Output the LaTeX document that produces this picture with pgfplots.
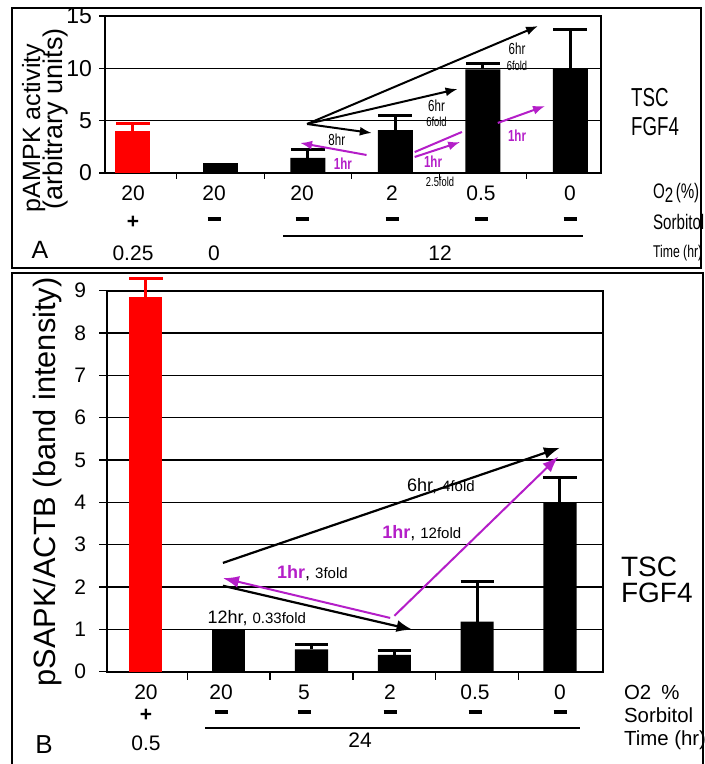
\documentclass[border=0pt]{standalone}
\usepackage{pgfplots}
\pgfplotsset{compat=1.18}
\usepackage{fontspec}
\setmainfont{Liberation Sans}
\usepackage{graphicx}
\usetikzlibrary{arrows.meta}
\definecolor{myred}{RGB}{255,0,0}
\definecolor{mypurple}{RGB}{180,30,200}
\newcommand\fs[1]{\fontsize{#1}{#1}\selectfont}
\newcommand\nr[1]{\scalebox{0.72}[1]{#1}}
\newcommand\mn{\rule[2.6pt]{6.5pt}{1.9pt}}
\begin{document}
\begin{tikzpicture}
\path[use as bounding box] (0pt,0pt) rectangle (352.5pt,382pt);
% ---------------- Panel A
\begin{axis}[at={(52.5pt,295.5pt)}, anchor=south west, scale only axis,
  width=248pt, height=78.5pt,
  xmin=-0.32, xmax=5.35, ymin=0, ymax=15,
  ytick={0,5,10,15}, xtick={0.5,1.5,2.5,3.5,4.5}, xticklabels={},
  tick pos=left, tick align=outside, major tick length=3pt,
  ymajorgrids, grid style={black, line width=0.6pt},
  axis line style={black, line width=0.8pt},
  tick style={black, line width=0.6pt},
  yticklabel style={font=\fs{11.5}},
  /pgf/number format/assume math mode=true,
  clip=false]
\addplot[ybar, bar width=0.4, bar shift=0pt, fill=myred, draw=none,
  error bars/.cd, y dir=plus, y explicit,
  error bar style={myred, line width=1.5pt},
  error mark options={myred, rotate=90, mark size=8.5pt, line width=1.5pt}]
  coordinates {(0,4.0) +- (0,0.7)};
\addplot[ybar, bar width=0.4, bar shift=0pt, fill=black, draw=none]
  coordinates {(1,1.0)};
\addplot[ybar, bar width=0.4, bar shift=0pt, fill=black, draw=none,
  error bars/.cd, y dir=plus, y explicit,
  error bar style={black, line width=1.5pt},
  error mark options={black, rotate=90, mark size=8.5pt, line width=1.5pt}]
  coordinates {(2,1.45) +- (0,0.75) (3,4.1) +- (0,1.4) (4,9.9) +- (0,0.6) (5,10.0) +- (0,3.7)};
\draw[black, line width=1pt, -{Latex[length=6pt,width=4.5pt]}] (axis cs:1.99,4.68) -- (axis cs:4.63,14.04);
\draw[black, line width=1pt, -{Latex[length=6pt,width=4.5pt]}] (axis cs:1.99,4.68) -- (axis cs:3.71,8.02);
\draw[black, line width=1pt, -{Latex[length=6pt,width=4.5pt]}] (axis cs:1.99,4.68) -- (axis cs:2.73,3.82);
\node[font=\fs{8}] at (axis cs:4.39,11.9) {\nr{6hr}};
\node[font=\fs{6.5}] at (axis cs:4.39,10.2) {\nr{6fold}};
\node[font=\fs{8}] at (axis cs:3.47,6.4) {\nr{6hr}};
\node[font=\fs{6.5}] at (axis cs:3.47,4.9) {\nr{6fold}};
\node[font=\fs{8}] at (axis cs:2.33,3.2) {\nr{8hr}};
\draw[mypurple, line width=1pt, -{Latex[length=6pt,width=4.5pt]}] (axis cs:2.67,1.72) -- (axis cs:1.91,2.87);
\node[font=\bfseries\fs{8}, text=mypurple] at (axis cs:2.4,0.86) {\nr{1hr}};
\draw[mypurple, line width=1pt] (axis cs:3.22,2.0) -- (axis cs:3.76,3.92);
\draw[mypurple, line width=1pt, -{Latex[length=6pt,width=4.5pt]}] (axis cs:3.22,1.53) -- (axis cs:3.74,2.96);
\node[font=\bfseries\fs{8}, text=mypurple] at (axis cs:3.43,1.05) {\nr{1hr}};
\draw[mypurple, line width=1pt, -{Latex[length=6pt,width=4.5pt]}] (axis cs:4.17,4.78) -- (axis cs:4.71,6.4);
\node[font=\bfseries\fs{8}, text=mypurple] at (axis cs:4.39,3.55) {\nr{1hr}};
\end{axis}
% ---------------- Panel B
\begin{axis}[at={(53.5pt,46.15pt)}, anchor=south west, scale only axis,
  width=248pt, height=190.5pt,
  xmin=-0.47, xmax=5.52, ymin=0, ymax=9,
  ytick={0,1,...,9}, xtick={0.5,1.5,2.5,3.5,4.5}, xticklabels={},
  tick pos=left, tick align=outside, major tick length=4pt,
  ymajorgrids, grid style={black, line width=0.7pt},
  axis line style={black, line width=0.9pt},
  tick style={black, line width=0.7pt},
  yticklabel style={font=\fs{10.5}, xshift=-3pt},
  /pgf/number format/assume math mode=true,
  clip=false]
\addplot[ybar, bar width=0.4, bar shift=0pt, fill=myred, draw=none,
  error bars/.cd, y dir=plus, y explicit,
  error bar style={myred, line width=1.5pt},
  error mark options={myred, rotate=90, mark size=8.3pt, line width=1.5pt}]
  coordinates {(0,8.85) +- (0,0.45)};
\addplot[ybar, bar width=0.4, bar shift=0pt, fill=black, draw=none]
  coordinates {(1,1.02)};
\addplot[ybar, bar width=0.4, bar shift=0pt, fill=black, draw=none,
  error bars/.cd, y dir=plus, y explicit,
  error bar style={black, line width=1.5pt},
  error mark options={black, rotate=90, mark size=8.3pt, line width=1.5pt}]
  coordinates {(2,0.53) +- (0,0.12) (3,0.4) +- (0,0.11) (4,1.18) +- (0,0.95) (5,3.98) +- (0,0.6)};
\draw[black, line width=1.1pt, -{Latex[length=8pt,width=6pt]}] (axis cs:0.93,2.57) -- (axis cs:5.0,5.29);
\draw[black, line width=1.1pt, -{Latex[length=8pt,width=6pt]}] (axis cs:0.93,2.03) -- (axis cs:3.22,0.99);
\draw[mypurple, line width=1pt, -{Latex[length=8pt,width=6pt]}] (axis cs:2.95,1.27) -- (axis cs:0.93,2.21);
\draw[mypurple, line width=1pt, -{Latex[length=8pt,width=6pt]}] (axis cs:3.0,1.32) -- (axis cs:4.98,5.08);
\node[anchor=west, font=\fs{9}, inner sep=0pt] at (axis cs:3.15,4.39) {6hr, {\fs{7.5}4fold}};
\node[anchor=west, font=\fs{9}, inner sep=0pt] at (axis cs:0.74,1.27) {12hr, {\fs{7.5}0.33fold}};
\node[anchor=west, font=\fs{9}, inner sep=0pt] at (axis cs:1.58,2.33) {\textcolor{mypurple}{\bfseries 1hr}, {\fs{7.5}3fold}};
\node[anchor=west, font=\fs{9}, inner sep=0pt] at (axis cs:2.85,3.28) {\textcolor{mypurple}{\bfseries 1hr}, {\fs{7.5}12fold}};
\end{axis}
\begin{scope}[x=0.5pt,y=0.5pt]
\draw[line width=1pt] (12,756) rectangle (701,496);
\draw[line width=1pt] (12,0) -- (12,491) -- (703,491) -- (703,0);
% Panel A labels
\node[rotate=90, anchor=base, font=\fs{12.5}] at (40,636) {pAMPK activity};
\node[rotate=90, anchor=base, font=\fs{13.5}] at (62,645) {(arbitrary units)};
\foreach \x/\t in {133/20,214/20,302/20,392/2,481/0.5,570/0}
  \node[font=\fs{10.5}] at (\x,571) {\t};
\node[font=\bfseries\fs{10.5}] at (133,542) {+};
\foreach \x in {214,302,392,481,570}
  \node[font=\fs{10.5}] at (\x,542) {\mn};
\node[font=\fs{10.5}] at (133,511) {0.25};
\node[font=\fs{10.5}] at (214,511) {0};
\node[font=\fs{10.5}] at (440,511) {12};
\draw[line width=0.6pt] (283,528) -- (583,528);
\node[font=\fs{6.5}] at (440,582) {\nr{2.5fold}};
\node[anchor=west, font=\fs{10.5}] at (646,571) {\nr{O\raisebox{-2pt}{2}\,(\%)}};
\node[anchor=west, font=\fs{10.5}] at (646,542) {\nr{Sorbitol}};
\node[anchor=west, font=\fs{8.5}] at (646,511) {\nr{Time (hr)}};
\node[anchor=west, font=\fs{13}] at (624,666) {\nr{TSC}};
\node[anchor=west, font=\fs{13}] at (624,637) {\nr{FGF4}};
\node[font=\fs{12.5}] at (40,514) {A};
% Panel B labels
\node[rotate=90, anchor=base, font=\fs{15.4}] at (55,282) {pSAPK/ACTB (band intensity)};
\foreach \x/\t in {146/20,221/20,304/5,390/2,475/0.5,560/0}
  \node[font=\fs{10.5}] at (\x,72) {\t};
\node[font=\bfseries\fs{10.5}] at (146,49) {+};
\foreach \x in {221,304,390,475,560}
  \node[font=\fs{10.5}] at (\x,49) {\mn};
\node[font=\fs{10.5}] at (146,21) {0.5};
\node[font=\fs{10.5}] at (360,24) {24};
\draw[line width=0.6pt] (205,36) -- (580,36);
\node[anchor=west, font=\fs{10.2}] at (617,72) {O2\enspace\%};
\node[anchor=west, font=\fs{10.2}] at (617,49) {Sorbitol};
\node[anchor=west, font=\fs{10.2}] at (617,24) {Time (hr)};
\node[anchor=west, font=\fs{14}] at (614,197) {TSC};
\node[anchor=west, font=\fs{14}] at (614,171) {FGF4};
\node[font=\fs{13}] at (44,19) {B};
\end{scope}
\end{tikzpicture}
\end{document}
